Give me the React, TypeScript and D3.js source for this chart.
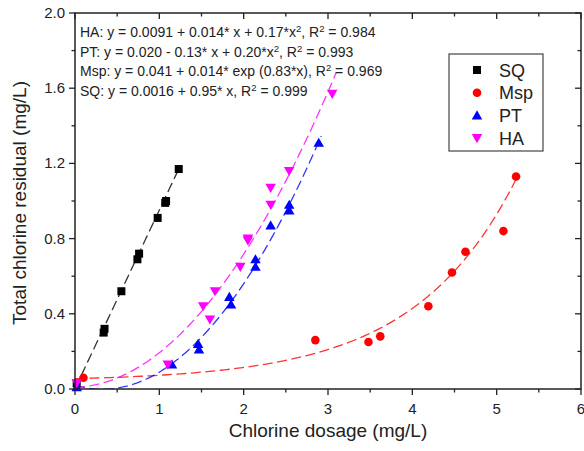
import * as d3 from "d3";
import React from "react";

const sqX = [0.02, 0.34, 0.35, 0.55, 0.74, 0.76, 0.98, 1.07, 1.08, 1.23];
const sqY = [0.03, 0.30, 0.32, 0.52, 0.69, 0.72, 0.91, 0.99, 1.0, 1.17];

const mspX = [0.1, 2.85, 3.48, 3.62, 4.19, 4.47, 4.63, 5.08, 5.23];
const mspY = [0.06, 0.26, 0.25, 0.28, 0.44, 0.62, 0.73, 0.84, 1.13];

const ptX = [0.02, 1.15, 1.46, 1.47, 1.83, 1.85, 2.14, 2.14, 2.32, 2.54, 2.54, 2.89];
const ptY = [0.01, 0.13, 0.24, 0.21, 0.49, 0.45, 0.69, 0.65, 0.87, 0.98, 0.95, 1.31];

const haX = [0.02, 1.1, 1.52, 1.6, 1.66, 1.96, 2.05, 2.05, 2.32, 2.32, 2.54, 3.05];
const haY = [0.03, 0.13, 0.44, 0.37, 0.52, 0.65, 0.8, 0.79, 0.98, 1.07, 1.16, 1.57];

// fit coefficients from the equations printed on the chart
const haFit = [0.0091, 0.014, 0.17];
const ptFit = [0.02, -0.13, 0.2];
const mspFit = [0.041, 0.014, 0.83];
const sqFit = [0.0016, 0.95];

const xTicks = [0, 1, 2, 3, 4, 5, 6];
const yTicks = [0, 0.4, 0.8, 1.2, 1.6, 2.0];

const equations = [
  ["HA: y = 0.0091 + 0.014* x + 0.17*x", "2", ", R", "2", " = 0.984"],
  ["PT: y = 0.020 - 0.13* x + 0.20*x", "2", ", R", "2", " = 0.993"],
  ["Msp: y = 0.041 + 0.014* exp (0.83*x), R", "2", " = 0.969"],
  ["SQ: y = 0.0016 + 0.95* x, R", "2", " = 0.999"],
];

const legendItems = [
  { name: "SQ", color: "#000000", shape: "square" },
  { name: "Msp", color: "#ff0000", shape: "circle" },
  { name: "PT", color: "#0000ff", shape: "up" },
  { name: "HA", color: "#ff00ff", shape: "down" },
];

const W = 584;
const H = 451;
const left = 75, right = 581, top = 13, bottom = 389;
const font = "'Liberation Sans', Arial, sans-serif";

const x = d3.scaleLinear().domain([0, 6]).range([left, right]);
const y = d3.scaleLinear().domain([0, 2]).range([bottom, top]);

const sample = (x0, x1, f) => d3.range(0, 101).map(i => {
  const v = x0 + (x1 - x0) * i / 100;
  return [v, f(v)];
});

const line = d3.line().x(d => x(d[0])).y(d => y(d[1]));

const Marker = ({ shape, cx, cy, color }) => {
  if (shape === "square") return <rect x={cx - 4} y={cy - 4} width={8} height={8} fill={color} />;
  if (shape === "circle") return <circle cx={cx} cy={cy} r={4.3} fill={color} />;
  const s = d3.symbol().type(d3.symbolTriangle).size(48)();
  return <path d={s} fill={color} transform={`translate(${cx},${cy + (shape === "up" ? 1 : -1)}) rotate(${shape === "up" ? 0 : 180})`} />;
};

export default function App() {
  const fits = [
    { c: "#000000", d: sample(0, 1.23, v => sqFit[0] + sqFit[1] * v) },
    { c: "#ff0000", d: sample(0, 5.23, v => mspFit[0] + mspFit[1] * Math.exp(mspFit[2] * v)) },
    { c: "#0000ff", d: sample(0, 2.92, v => ptFit[0] + ptFit[1] * v + ptFit[2] * v * v) },
    { c: "#ff00ff", d: sample(0, 3.1, v => haFit[0] + haFit[1] * v + haFit[2] * v * v) },
  ];
  const series = [
    { xs: sqX, ys: sqY, ...legendItems[0] },
    { xs: mspX, ys: mspY, ...legendItems[1] },
    { xs: ptX, ys: ptY, ...legendItems[2] },
    { xs: haX, ys: haY, ...legendItems[3] },
  ];
  const xMinor = d3.range(0, 6.01, 0.5);
  const yMinor = d3.range(0, 2.01, 0.2);

  return (
    <svg width={W} height={H} style={{ position: "absolute", left: 0, top: 0, background: "#fff" }} fontFamily={font}>
      <defs>
        <clipPath id="plot"><rect x={left} y={top} width={right - left} height={bottom - top} /></clipPath>
      </defs>

      {/* fitted curves */}
      <g clipPath="url(#plot)">
        {fits.map((f, i) => (
          <path key={i} d={line(f.d)} fill="none" stroke={f.c} strokeOpacity={0.8} strokeWidth={1.3} strokeDasharray="10,4.5" />
        ))}
      </g>

      {/* points */}
      {series.map(s => (
        <g key={s.name}>
          {s.xs.map((v, i) => <Marker key={i} shape={s.shape} cx={x(v)} cy={y(s.ys[i])} color={s.color} />)}
        </g>
      ))}

      {/* frame */}
      <rect x={left} y={top} width={right - left} height={bottom - top} fill="none" stroke="#222" strokeWidth={1.5} />

      {/* x ticks */}
      {xMinor.map(v => {
        const major = Math.abs(v - Math.round(v)) < 1e-6;
        return (
          <g key={v}>
            <line x1={x(v)} x2={x(v)} y1={bottom} y2={bottom + (major ? 6 : 3.5)} stroke="#222" strokeWidth={1.3} />
            <line x1={x(v)} x2={x(v)} y1={top} y2={top + (major ? 6 : 3.5)} stroke="#222" strokeWidth={1.3} />
          </g>
        );
      })}
      {xTicks.map(v => (
        <text key={v} x={x(v)} y={bottom + 25} textAnchor="middle" fontSize={15} fill="#222">{v}</text>
      ))}

      {/* y ticks */}
      {yMinor.map((v, i) => {
        const major = i % 2 === 0;
        return (
          <g key={i}>
            <line x1={left} x2={left - (major ? 6 : 3.5)} y1={y(v)} y2={y(v)} stroke="#222" strokeWidth={1.3} />
            <line x1={right} x2={right - (major ? 6 : 3.5)} y1={y(v)} y2={y(v)} stroke="#222" strokeWidth={1.3} />
          </g>
        );
      })}
      {yTicks.map(v => (
        <text key={v} x={left - 10} y={y(v) + 5} textAnchor="end" fontSize={15} fill="#222">{v.toFixed(1)}</text>
      ))}

      {/* axis titles */}
      <text x={(left + right) / 2} y={437} textAnchor="middle" fontSize={19} fill="#222">Chlorine dosage (mg/L)</text>
      <text transform={`translate(26,${(top + bottom) / 2 + 2}) rotate(-90)`} textAnchor="middle" fontSize={19} fill="#222">Total chlorine residual (mg/L)</text>

      {/* equations */}
      {equations.map((parts, i) => (
        <text key={i} x={80} y={37 + i * 19.7} fontSize={14} fill="#222">
          {parts.map((p, j) => p === "2"
            ? <tspan key={j} fontSize={9.5} dy={-5}>{p}</tspan>
            : <tspan key={j} dy={j > 0 ? 5 : 0}>{p}</tspan>)}
        </text>
      ))}

      {/* legend */}
      <rect x={449} y={54} width={94} height={97} fill="#fff" stroke="#444" strokeWidth={1.2} />
      {legendItems.map((it, i) => (
        <g key={it.name}>
          <Marker shape={it.shape} cx={477} cy={70 + i * 22.7} color={it.color} />
          <text x={499} y={70 + i * 22.7 + 6.5} fontSize={18} fill="#222">{it.name}</text>
        </g>
      ))}
    </svg>
  );
}
